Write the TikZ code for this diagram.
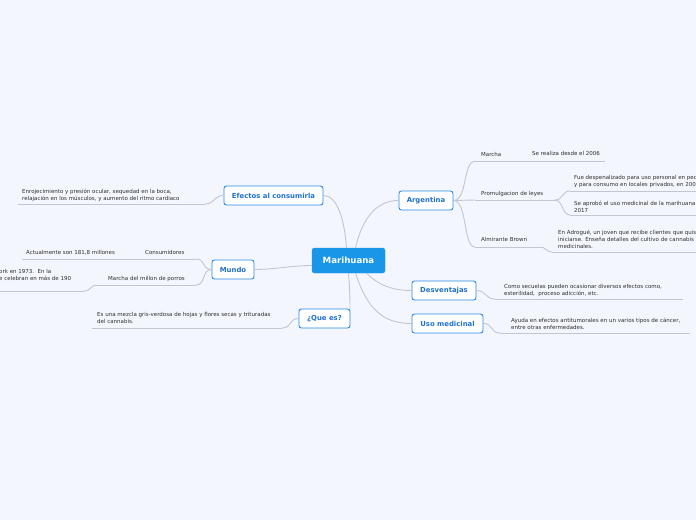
\documentclass[tikz,border=0pt]{standalone}
\usepackage{fontspec}
\setmainfont{DejaVu Sans}
\usetikzlibrary{calc}
\definecolor{bg}{HTML}{F3F6FD}
\definecolor{cblue}{HTML}{1A96E8}
\definecolor{tblue}{HTML}{2A8AE6}
\definecolor{ttext}{HTML}{1F72CC}
\definecolor{lgray}{HTML}{C2C6D2}
\definecolor{txt}{HTML}{2E2E2E}
\tikzset{
  central/.style={draw=cblue, fill=cblue, rounded corners=2.5pt, minimum height=25pt, inner sep=0pt, text=white, font=\fontsize{8.6}{10}\selectfont\bfseries},
  topic/.style={draw=tblue, line width=0.9pt, fill=white, rounded corners=2.5pt, minimum height=19pt, inner sep=0pt, text=ttext, font=\fontsize{6.9}{8}\selectfont\bfseries},
  lab/.style={inner sep=0pt, anchor=north west, align=left, text=txt, font=\fontsize{5.5}{7}\selectfont},
  conn/.style={draw=lgray, line width=0.9pt},
  uline/.style={draw=lgray, line width=0.8pt}
}
\begin{document}
\begin{tikzpicture}[x=1pt,y=-1pt]
\useasboundingbox (0,0) rectangle (696,520);
\clip (0,0) rectangle (696,520);
\fill[bg] (0,0) rectangle (696,520);

% central and main topics
\node[central, minimum width=73pt] (c) at (348.5,260.5) {Marihuana};
\node[topic, minimum width=99pt] (efe) at (273.5,195.5) {Efectos al consumirla};
\node[topic, minimum width=42pt] (mun) at (233,269.5) {Mundo};
\node[topic, minimum width=51pt] (que) at (324.5,318.5) {¿Que es?};
\node[topic, minimum width=54pt] (arg) at (426,200.5) {Argentina};
\node[topic, minimum width=64pt] (des) at (444,290.5) {Desventajas};
\node[topic, minimum width=71pt] (uso) at (447.5,323.5) {Uso medicinal};

% connectors from centre
\draw[conn] ($(c.north)+(-2,0)$) .. controls ($(c.north)+(-4,-28)$) and ($(efe.east)+(14,0)$) .. (efe.east);
\draw[conn] ($(c.north)+(7,0)$) .. controls ($(c.north)+(14,-30)$) and ($(arg.west)+(-22,0)$) .. (arg.west);
\draw[conn] ($(c.west)+(0,5)$) .. controls ($(c.west)+(-20,5)$) and ($(mun.east)+(20,0)$) .. (mun.east);
\draw[conn] (c.south) .. controls ($(c.south)+(1,12)$) and ($(que.north)+(25.5,-12)$) .. ($(que.north)+(25.5,0)$);
\draw[conn] ($(c.south)+(18,0)$) .. controls ($(c.south)+(28,10)$) and ($(des.west)+(-22,0)$) .. (des.west);
\draw[conn] ($(c.south)+(7,0)$) .. controls ($(c.south)+(20,40)$) and ($(uso.west)+(-25,0)$) .. (uso.west);

% Efectos
\node[lab] (efet) at (22,188.5) {Enrojecimiento y presión ocular, sequedad en la boca,\\relajación en los músculos, y aumento del ritmo cardiaco};
\coordinate (efeL) at (18,204);
\coordinate (efeR) at (205,204);
\draw[uline] (efeL) -- (efeR);
\draw[conn] (efeR) .. controls ($(efeR)+(10,0)$) and ($(efe.west)+(-10,0)$) .. (efe.west);

% Mundo
\node[lab] (cons) at (145,250.5) {Consumidores};
\node[lab] (act) at (26,250.5) {Actualmente son 181,8 millones};
\coordinate (consL) at (140,259);
\coordinate (consR) at (196,259);
\coordinate (actL) at (22,259);
\draw[uline] (actL) -- (consL);
\draw[uline] (consL) -- (consR);
\draw[conn] (consR) .. controls ($(consR)+(10,0)$) and ($(mun.west)+(-10,0)$) .. (mun.west);

\node[lab] (mar) at (108,276.5) {Marcha del millon de porros};
\coordinate (marL) at (96,285);
\coordinate (marR) at (196,285);
\draw[uline] (marL) -- (marR);
\draw[conn] (marR) .. controls ($(marR)+(10,0)$) and ($(mun.west)+(-10,0)$) .. (mun.west);
\node[lab] (york) at (-1,269.5) {ork en 1973.\ \ En la\\e celebran en más de 190};
\coordinate (yorkL) at (-5,291);
\coordinate (yorkR) at (84,291);
\draw[uline] (yorkL) -- (yorkR);
\draw[conn] (yorkR) .. controls ($(yorkR)+(7,0)$) and ($(marL)+(-5,0)$) .. (marL);

% Que es
\node[lab] (quet) at (97,312.5) {Es una mezcla gris-verdosa de hojas y flores secas y trituradas\\del cannabis.};
\coordinate (queL) at (92,328);
\coordinate (queR) at (282,328);
\draw[uline] (queL) -- (queR);
\draw[conn] (queR) .. controls ($(queR)+(10,0)$) and ($(que.west)+(-10,0)$) .. (que.west);

% Argentina
\node[lab] (marc) at (481,152) {Marcha};
\node[lab] (real) at (532,151.5) {Se realiza desde el 2006};
\coordinate (marcL) at (475,161);
\coordinate (marcR) at (528,161);
\coordinate (realR) at (605,161);
\draw[uline] (marcL) -- (marcR);
\draw[uline] (marcR) -- (realR);
\draw[conn] (arg.east) .. controls ($(arg.east)+(14,0)$) and ($(marcL)+(-12,0)$) .. (marcL);

\node[lab] (prom) at (481,191.5) {Promulgacion de leyes};
\coordinate (promL) at (475,200);
\coordinate (promR) at (555,200);
\draw[uline] (promL) -- (promR);
\draw[conn] (arg.east) -- (promL);

\node[lab] (fue) at (574,175.5) {Fue despenalizado para uso personal en peq\\y para consumo en locales privados, en 200};
\coordinate (fueL) at (570,191);
\coordinate (fueR) at (700,191);
\draw[uline] (fueL) -- (fueR);
\draw[conn] (promR) .. controls ($(promR)+(8,0)$) and ($(fueL)+(-8,0)$) .. (fueL);

\node[lab] (apr) at (574,200.5) {Se aprobó el uso medicinal de la marihuana en\\2017};
\coordinate (aprL) at (570,215);
\coordinate (aprR) at (700,215);
\draw[uline] (aprL) -- (aprR);
\draw[conn] (promR) .. controls ($(promR)+(8,0)$) and ($(aprL)+(-8,0)$) .. (aprL);

\node[lab] (alm) at (481,237.5) {Almirante Brown};
\coordinate (almL) at (475,247);
\coordinate (almR) at (540,247);
\draw[uline] (almL) -- (almR);
\draw[conn] (arg.east) .. controls ($(arg.east)+(14,0)$) and ($(almL)+(-12,0)$) .. (almL);

\node[lab] (adr) at (558,230) {En Adrogué, un joven que recibe clientes que quis\\iniciarse. Enseña detalles del cultivo de cannabis c\\medicinales.};
\coordinate (adrL) at (552,252);
\coordinate (adrR) at (700,252);
\draw[uline] (adrL) -- (adrR);
\draw[conn] (almR) .. controls ($(almR)+(6,0)$) and ($(adrL)+(-6,0)$) .. (adrL);

% Desventajas
\node[lab] (dest) at (504,284.5) {Como secuelas pueden ocasionar diversos efectos como,\\esterilidad,\ \ proceso adicción, etc.};
\coordinate (desL) at (495,299);
\coordinate (desR) at (683,299);
\draw[uline] (desL) -- (desR);
\draw[conn] (des.east) .. controls ($(des.east)+(10,0)$) and ($(desL)+(-10,0)$) .. (desL);

% Uso medicinal
\node[lab] (usot) at (511,317.5) {Ayuda en efectos antitumorales en un varios tipos de cáncer,\\entre otras enfermedades.};
\coordinate (usoL) at (500,333);
\coordinate (usoR) at (690,333);
\draw[uline] (usoL) -- (usoR);
\draw[conn] (uso.east) .. controls ($(uso.east)+(10,0)$) and ($(usoL)+(-10,0)$) .. (usoL);
\end{tikzpicture}
\end{document}
